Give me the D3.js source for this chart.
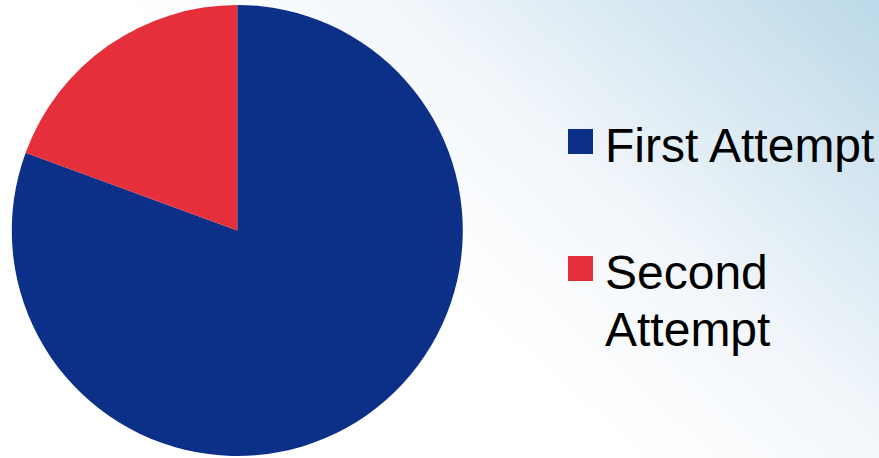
<!DOCTYPE html>
<html>
<head>
<meta charset="utf-8">
<script src="https://cdn.jsdelivr.net/npm/d3@7"></script>
<style>
  html, body { margin: 0; padding: 0; background: #fff; }
  svg { display: block; }
</style>
</head>
<body>
<svg id="chart"></svg>
<script>
// chart data
var categories = ["First Attempt", "Second Attempt"];
var values = [80.6, 19.4];
var colors = ["#0c3087", "#e5303b"];
var legendLines = [["First Attempt"], ["Second", "Attempt"]];

var width = 879, height = 458;
var cx = 237.3, cy = 230.5, radius = 225.5;

var svg = d3.select("#chart")
  .attr("width", width)
  .attr("height", height);

// background gradient, white at lower left to pale blue at top right
var defs = svg.append("defs");
var grad = defs.append("linearGradient")
  .attr("id", "bg")
  .attr("gradientUnits", "userSpaceOnUse")
  .attr("x1", 540).attr("y1", 380)
  .attr("x2", 879).attr("y2", 0);
grad.append("stop").attr("offset", "0%").attr("stop-color", "#ffffff");
grad.append("stop").attr("offset", "35%").attr("stop-color", "#f3f7fb");
grad.append("stop").attr("offset", "100%").attr("stop-color", "#bcd9e9");

svg.append("rect")
  .attr("width", width)
  .attr("height", height)
  .attr("fill", "url(#bg)");

var color = d3.scaleOrdinal().domain(categories).range(colors);

var pie = d3.pie().sort(null).value(function(d) { return d.value; });
var arc = d3.arc().innerRadius(0).outerRadius(radius);

var data = categories.map(function(c, i) { return { name: c, value: values[i] }; });

svg.append("g")
  .attr("transform", "translate(" + cx + "," + cy + ")")
  .selectAll("path")
  .data(pie(data))
  .enter()
  .append("path")
  .attr("d", arc)
  .attr("fill", function(d) { return color(d.data.name); });

// legend
var legendY = d3.scalePoint().domain(categories).range([129, 256]);

var legend = svg.append("g")
  .selectAll("g")
  .data(categories)
  .enter()
  .append("g")
  .attr("transform", function(d) { return "translate(568," + legendY(d) + ")"; });

legend.append("rect")
  .attr("width", 25)
  .attr("height", 25)
  .attr("fill", function(d) { return color(d); });

legend.append("text")
  .attr("x", 37)
  .attr("y", 33)
  .attr("font-family", "'Liberation Sans', Arial, sans-serif")
  .attr("font-size", 48)
  .attr("fill", "#000")
  .selectAll("tspan")
  .data(function(d, i) { return legendLines[i]; })
  .enter()
  .append("tspan")
  .attr("x", 37)
  .attr("dy", function(d, i) { return i === 0 ? 0 : 57; })
  .text(function(d) { return d; });
</script>
</body>
</html>
